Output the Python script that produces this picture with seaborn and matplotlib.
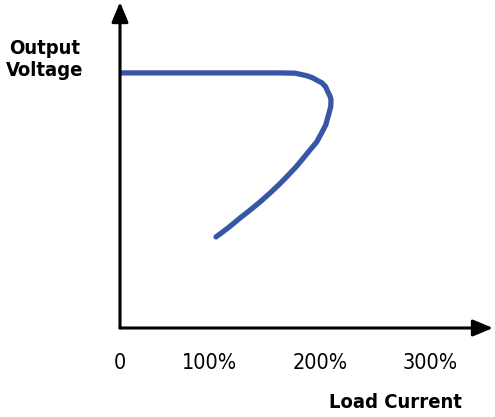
import matplotlib
matplotlib.use("Agg")
import matplotlib.pyplot as plt
import seaborn as sns
import pandas as pd

# foldback current limit curve (load as fraction of rated, voltage as fraction of nominal)
load_current = [0.19, 1.638, 1.774, 1.88, 1.937, 1.982, 2.018, 2.052, 2.072, 2.09, 2.10, 2.097,
                2.072, 2.052, 2.015, 1.97, 1.91, 1.846, 1.782, 1.71, 1.638, 1.548, 1.457, 1.367,
                1.276, 1.167, 1.059]
output_voltage = [1.0, 1.0, 0.999, 0.989, 0.98, 0.969, 0.961, 0.945, 0.925, 0.91, 0.894, 0.867,
                  0.827, 0.796, 0.765, 0.729, 0.698, 0.664, 0.631, 0.598, 0.566, 0.529, 0.494, 0.462,
                  0.431, 0.392, 0.357]

tick_values = [0.19, 1, 2, 3]
tick_labels = ["0", "100%", "200%", "300%"]

sns.set_theme(style="white")
plt.rcParams["font.family"] = ["DejaVu Sans"]
plt.rcParams["font.stretch"] = "condensed"
plt.rcParams["text.color"] = "black"

W, H = 495, 417
fig = plt.figure(figsize=(W / 100, H / 100), dpi=100)
fig.patch.set_facecolor("white")

# axes box placed so its left/bottom edges are the drawn axis lines
ax = fig.add_axes([120 / W, (H - 328) / H, (493 - 120) / W, (328 - 2) / H])
ax.set_facecolor("white")

df = pd.DataFrame({"load": load_current, "volt": output_voltage})
sns.lineplot(data=df, x="load", y="volt", sort=False, estimator=None,
             color="#3757a6", linewidth=3.8, solid_capstyle="round",
             solid_joinstyle="round", ax=ax)

ax.set_xlim(0.19, 3.566)
ax.set_ylim(0, 1.278)
for s in ax.spines.values():
    s.set_visible(False)

ax.set_xticks(tick_values)
ax.set_xticklabels(tick_labels, fontsize=15.5)
ax.set_yticks([])
ax.tick_params(axis="x", length=0, pad=18, colors="black")
ax.set_xlabel("")
ax.set_ylabel("")

# axis arrows
arrow = dict(arrowstyle="-|>,head_length=0.6,head_width=0.25", lw=2.2,
             color="black", mutation_scale=20, shrinkA=0, shrinkB=0)
ax.annotate("", xy=(1, 0), xytext=(0, 0), xycoords="axes fraction",
            arrowprops=arrow, annotation_clip=False)
ax.annotate("", xy=(0, 1), xytext=(0, 0), xycoords="axes fraction",
            arrowprops=arrow, annotation_clip=False)

fig.text(45 / W, 1 - 59 / H, "Output\nVoltage", ha="center", va="center",
         fontsize=14.5, fontweight="bold", linespacing=1.2)
fig.text(395 / W, 1 - 402 / H, "Load Current", ha="center", va="center",
         fontsize=14.5, fontweight="bold")

fig.savefig("out.png", dpi=100)
